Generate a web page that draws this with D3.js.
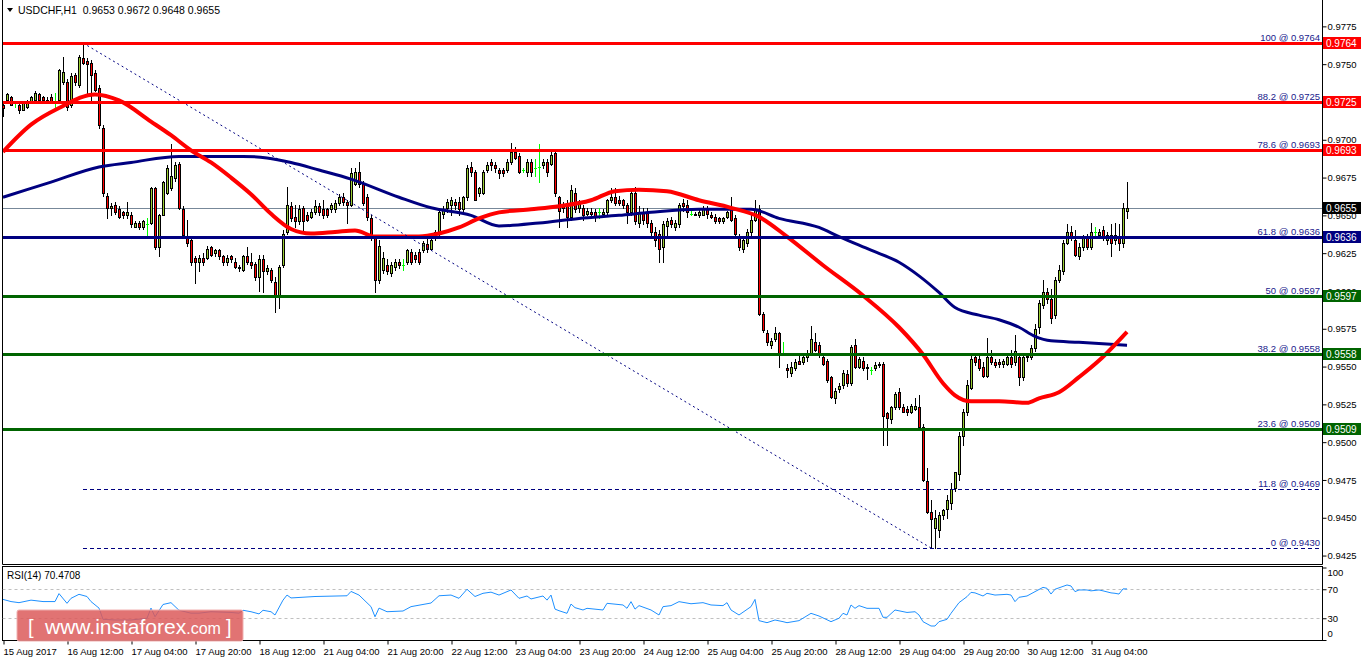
<!DOCTYPE html>
<html><head><meta charset="utf-8">
<script src="https://cdn.jsdelivr.net/npm/d3@7"></script>
<style>body{margin:0;background:#fff}svg{display:block}text{font-family:"Liberation Sans",Arial,sans-serif}</style>
</head><body><svg id="c" width="1362" height="661"></svg>
<script>
const opens=[
0.9723,0.9726,0.9728,0.9724,0.9723,0.9720,0.9722,0.9725,0.9726,0.9730,
0.9728,0.9726,0.9728,0.9724,0.9726,0.9738,0.9738,0.9723,0.9743,0.9736,
0.9754,0.9752,0.9751,0.9744,0.9734,0.9708,0.9663,0.9655,0.9657,0.9654,
0.9652,0.9650,0.9650,0.9642,0.9645,0.9642,0.9644,0.9645,0.9668,0.9629,
0.9650,0.9665,0.9668,0.9675,0.9684,0.9654,0.9636,0.9634,0.9622,0.9619,
0.9622,0.9622,0.9629,0.9625,0.9627,0.9623,0.9619,0.9623,0.9619,0.9616,
0.9614,0.9623,0.9619,0.9618,0.9609,0.9621,0.9613,0.9614,0.9606,0.9597,
0.9617,0.9639,0.9656,0.9649,0.9646,0.9655,0.9650,0.9649,0.9652,0.9656,
0.9654,0.9654,0.9654,0.9654,0.9658,0.9662,0.9659,0.9657,0.9671,0.9679,
0.9671,0.9662,0.9648,0.9635,0.9607,0.9614,0.9617,0.9612,0.9616,0.9619,
0.9617,0.9619,0.9626,0.9624,0.9626,0.9627,0.9631,0.9628,0.9636,0.9639,
0.9651,0.9655,0.9657,0.9659,0.9659,0.9654,0.9662,0.9682,0.9679,0.9665,
0.9665,0.9680,0.9685,0.9683,0.9680,0.9680,0.9680,0.9685,0.9692,0.9689,
0.9680,0.9679,0.9685,0.9681,0.9682,0.9683,0.9685,0.9684,0.9691,0.9662,
0.9657,0.9657,0.9649,0.9665,0.9655,0.9655,0.9651,0.9652,0.9652,0.9652,
0.9651,0.9652,0.9660,0.9662,0.9660,0.9660,0.9657,0.9652,0.9665,0.9645,
0.9652,0.9652,0.9645,0.9639,0.9638,0.9629,0.9643,0.9647,0.9642,0.9644,
0.9658,0.9657,0.9651,0.9651,0.9650,0.9650,0.9654,0.9650,0.9649,0.9648,
0.9646,0.9649,0.9654,0.9648,0.9635,0.9628,0.9632,0.9639,0.9647,0.9654,
0.9585,0.9572,0.9564,0.9568,0.9572,0.9559,0.9549,0.9546,0.9549,0.9554,
0.9553,0.9556,0.9559,0.9566,0.9564,0.9556,0.9554,0.9543,0.9529,0.9535,
0.9538,0.9545,0.9539,0.9564,0.9550,0.9554,0.9550,0.9548,0.9549,0.9552,
0.9552,0.9519,0.9515,0.9523,0.9533,0.9523,0.9522,0.9520,0.9522,0.9523,
0.9510,0.9474,0.9454,0.9443,0.9442,0.9452,0.9456,0.9460,0.9470,0.9479,
0.9504,0.9520,0.9536,0.9556,0.9555,0.9550,0.9544,0.9556,0.9553,0.9553,
0.9552,0.9552,0.9556,0.9553,0.9556,0.9543,0.9556,0.9556,0.9562,0.9576,
0.9591,0.9599,0.9595,0.9584,0.9607,0.9613,0.9632,0.9639,0.9634,0.9623,
0.9629,0.9635,0.9629,0.9639,0.9637,0.9640,0.9634,0.9637,0.9634,0.9635,
0.9632,0.9653];
const highs=[
0.9724,0.9731,0.9729,0.9725,0.9724,0.9724,0.9726,0.9729,0.9732,0.9731,
0.9729,0.9728,0.9730,0.9731,0.9747,0.9755,0.9740,0.9744,0.9744,0.9756,
0.9764,0.9754,0.9753,0.9746,0.9736,0.9710,0.9665,0.9658,0.9659,0.9656,
0.9653,0.9659,0.9652,0.9646,0.9646,0.9647,0.9648,0.9669,0.9669,0.9651,
0.9673,0.9683,0.9697,0.9685,0.9685,0.9656,0.9647,0.9635,0.9623,0.9624,
0.9625,0.9630,0.9630,0.9628,0.9628,0.9624,0.9624,0.9624,0.9622,0.9617,
0.9624,0.9629,0.9625,0.9619,0.9624,0.9624,0.9617,0.9615,0.9609,0.9617,
0.9640,0.9669,0.9659,0.9657,0.9657,0.9656,0.9652,0.9654,0.9660,0.9658,
0.9660,0.9655,0.9658,0.9660,0.9664,0.9665,0.9660,0.9681,0.9681,0.9685,
0.9673,0.9664,0.9650,0.9636,0.9634,0.9626,0.9621,0.9619,0.9621,0.9621,
0.9621,0.9628,0.9628,0.9626,0.9628,0.9633,0.9635,0.9635,0.9640,0.9655,
0.9656,0.9661,0.9662,0.9661,0.9662,0.9663,0.9683,0.9685,0.9680,0.9669,
0.9680,0.9685,0.9687,0.9685,0.9681,0.9681,0.9687,0.9698,0.9695,0.9691,
0.9681,0.9687,0.9687,0.9687,0.9697,0.9687,0.9687,0.9692,0.9693,0.9663,
0.9659,0.9660,0.9670,0.9668,0.9660,0.9657,0.9655,0.9655,0.9654,0.9655,
0.9654,0.9661,0.9668,0.9668,0.9663,0.9661,0.9658,0.9667,0.9669,0.9656,
0.9655,0.9655,0.9647,0.9642,0.9640,0.9646,0.9648,0.9649,0.9647,0.9658,
0.9661,0.9660,0.9654,0.9652,0.9654,0.9656,0.9656,0.9652,0.9651,0.9649,
0.9649,0.9653,0.9662,0.9650,0.9638,0.9635,0.9641,0.9650,0.9660,0.9657,
0.9586,0.9574,0.9569,0.9576,0.9573,0.9566,0.9552,0.9553,0.9555,0.9557,
0.9557,0.9561,0.9577,0.9572,0.9566,0.9558,0.9555,0.9544,0.9536,0.9539,
0.9548,0.9548,0.9564,0.9568,0.9556,0.9556,0.9552,0.9550,0.9553,0.9553,
0.9553,0.9520,0.9524,0.9533,0.9536,0.9525,0.9524,0.9525,0.9529,0.9531,
0.9512,0.9483,0.9462,0.9455,0.9454,0.9456,0.9465,0.9473,0.9480,0.9507,
0.9522,0.9541,0.9559,0.9558,0.9557,0.9553,0.9569,0.9561,0.9555,0.9555,
0.9555,0.9559,0.9561,0.9571,0.9559,0.9557,0.9559,0.9564,0.9578,0.9594,
0.9607,0.9602,0.9601,0.9609,0.9617,0.9634,0.9644,0.9643,0.9640,0.9632,
0.9637,0.9638,0.9645,0.9642,0.9641,0.9643,0.9639,0.9644,0.9645,0.9644,
0.9658,0.9672];
const lows=[
0.9716,0.9725,0.9723,0.9722,0.9718,0.9720,0.9721,0.9724,0.9726,0.9725,
0.9724,0.9724,0.9724,0.9720,0.9725,0.9737,0.9720,0.9722,0.9736,0.9735,
0.9750,0.9730,0.9726,0.9732,0.9708,0.9663,0.9648,0.9650,0.9651,0.9648,
0.9648,0.9648,0.9642,0.9642,0.9641,0.9641,0.9637,0.9644,0.9628,0.9623,
0.9650,0.9664,0.9667,0.9673,0.9654,0.9635,0.9630,0.9617,0.9605,0.9613,
0.9617,0.9621,0.9623,0.9623,0.9621,0.9617,0.9617,0.9619,0.9615,0.9613,
0.9613,0.9618,0.9615,0.9607,0.9600,0.9599,0.9611,0.9606,0.9586,0.9589,
0.9616,0.9638,0.9646,0.9642,0.9644,0.9639,0.9646,0.9648,0.9651,0.9650,
0.9648,0.9649,0.9652,0.9652,0.9657,0.9657,0.9645,0.9656,0.9670,0.9669,
0.9657,0.9647,0.9634,0.9599,0.9605,0.9612,0.9611,0.9610,0.9614,0.9615,
0.9614,0.9618,0.9618,0.9619,0.9618,0.9626,0.9626,0.9627,0.9634,0.9636,
0.9648,0.9652,0.9650,0.9654,0.9650,0.9652,0.9660,0.9676,0.9660,0.9663,
0.9664,0.9679,0.9680,0.9679,0.9675,0.9676,0.9679,0.9684,0.9687,0.9678,
0.9679,0.9676,0.9676,0.9676,0.9672,0.9681,0.9676,0.9683,0.9663,0.9642,
0.9652,0.9642,0.9647,0.9652,0.9652,0.9647,0.9650,0.9650,0.9646,0.9648,
0.9650,0.9650,0.9659,0.9657,0.9657,0.9655,0.9645,0.9650,0.9644,0.9642,
0.9644,0.9642,0.9637,0.9630,0.9619,0.9619,0.9637,0.9642,0.9640,0.9642,
0.9653,0.9649,0.9650,0.9650,0.9649,0.9650,0.9648,0.9648,0.9645,0.9645,
0.9645,0.9648,0.9646,0.9637,0.9627,0.9626,0.9630,0.9637,0.9646,0.9584,
0.9573,0.9564,0.9562,0.9567,0.9550,0.9558,0.9543,0.9544,0.9548,0.9552,
0.9552,0.9554,0.9558,0.9560,0.9556,0.9551,0.9540,0.9529,0.9526,0.9533,
0.9536,0.9537,0.9538,0.9549,0.9549,0.9548,0.9542,0.9545,0.9548,0.9550,
0.9498,0.9498,0.9513,0.9522,0.9522,0.9520,0.9518,0.9519,0.9521,0.9510,
0.9474,0.9453,0.9430,0.9430,0.9437,0.9449,0.9450,0.9456,0.9468,0.9475,
0.9498,0.9518,0.9535,0.9551,0.9548,0.9543,0.9543,0.9552,0.9550,0.9550,
0.9550,0.9551,0.9550,0.9551,0.9538,0.9541,0.9554,0.9555,0.9560,0.9572,
0.9589,0.9592,0.9579,0.9582,0.9606,0.9611,0.9631,0.9634,0.9623,0.9621,
0.9627,0.9628,0.9628,0.9636,0.9636,0.9634,0.9631,0.9623,0.9631,0.9627,
0.9629,0.9648];
const closes=[
0.9721,0.9730,0.9723,0.9724,0.9720,0.9724,0.9724,0.9728,0.9731,0.9726,
0.9726,0.9725,0.9725,0.9724,0.9746,0.9745,0.9722,0.9742,0.9738,0.9755,
0.9751,0.9750,0.9743,0.9733,0.9710,0.9665,0.9655,0.9656,0.9652,0.9649,
0.9650,0.9652,0.9644,0.9645,0.9642,0.9646,0.9644,0.9668,0.9629,0.9650,
0.9672,0.9681,0.9676,0.9683,0.9655,0.9637,0.9632,0.9619,0.9619,0.9622,
0.9619,0.9628,0.9624,0.9627,0.9623,0.9619,0.9622,0.9621,0.9616,0.9615,
0.9623,0.9619,0.9617,0.9609,0.9621,0.9613,0.9615,0.9607,0.9597,0.9616,
0.9638,0.9657,0.9648,0.9646,0.9654,0.9646,0.9647,0.9652,0.9656,0.9652,
0.9650,0.9650,0.9657,0.9658,0.9662,0.9659,0.9657,0.9678,0.9679,0.9671,
0.9658,0.9649,0.9637,0.9607,0.9630,0.9622,0.9613,0.9617,0.9619,0.9617,
0.9617,0.9627,0.9619,0.9621,0.9619,0.9632,0.9628,0.9634,0.9639,0.9652,
0.9654,0.9659,0.9660,0.9657,0.9654,0.9662,0.9681,0.9679,0.9660,0.9668,
0.9679,0.9683,0.9683,0.9681,0.9678,0.9678,0.9685,0.9692,0.9688,0.9679,
0.9680,0.9685,0.9679,0.9681,0.9682,0.9685,0.9679,0.9690,0.9665,0.9653,
0.9655,0.9649,0.9667,0.9654,0.9659,0.9650,0.9653,0.9651,0.9649,0.9652,
0.9652,0.9660,0.9662,0.9658,0.9658,0.9657,0.9652,0.9665,0.9646,0.9652,
0.9647,0.9645,0.9639,0.9634,0.9628,0.9644,0.9646,0.9644,0.9645,0.9657,
0.9656,0.9652,0.9651,0.9650,0.9652,0.9654,0.9651,0.9649,0.9646,0.9646,
0.9648,0.9652,0.9647,0.9638,0.9629,0.9634,0.9639,0.9647,0.9654,0.9585,
0.9574,0.9566,0.9567,0.9572,0.9559,0.9559,0.9548,0.9550,0.9553,0.9552,
0.9556,0.9559,0.9568,0.9561,0.9558,0.9552,0.9541,0.9530,0.9534,0.9537,
0.9546,0.9539,0.9563,0.9550,0.9555,0.9549,0.9549,0.9548,0.9551,0.9551,
0.9517,0.9516,0.9523,0.9532,0.9523,0.9520,0.9520,0.9524,0.9524,0.9510,
0.9475,0.9454,0.9449,0.9450,0.9452,0.9455,0.9462,0.9469,0.9480,0.9504,
0.9520,0.9538,0.9555,0.9553,0.9549,0.9544,0.9556,0.9553,0.9551,0.9552,
0.9554,0.9556,0.9552,0.9560,0.9543,0.9556,0.9557,0.9562,0.9575,0.9592,
0.9599,0.9595,0.9582,0.9607,0.9614,0.9632,0.9639,0.9635,0.9624,0.9629,
0.9636,0.9629,0.9639,0.9639,0.9639,0.9635,0.9637,0.9632,0.9637,0.9632,
0.9655,0.9655];

// moving averages (bar index, value)
const redMaBars=[0,7,14,23,29,37,42,47,52,57,62,67,72,77,83,88,93,104,109,114,119,124,132,139,147,153,159,166,174,182,189,196,205,215,224,230,235,238,242,249,256,259,264,269,274,281];
const redMaValues=[0.9692,0.9710,0.9721,0.9730,0.9726,0.9712,0.9703,0.9693,0.9685,0.9675,0.9664,0.9651,0.9641,0.9638,0.9639,0.9640,0.9636,0.9636,0.9638,0.9642,0.9648,0.9652,0.9654,0.9656,0.9660,0.9666,0.9667,0.9666,0.9660,0.9655,0.9649,0.9636,0.9617,0.9597,0.9576,0.9558,0.9539,0.9531,0.9527,0.9527,0.9526,0.9529,0.9533,0.9543,0.9554,0.9573];
const navyMaBars=[0,12,24,32,44,60,66,72,79,87,99,107,117,124,134,144,154,162,174,187,194,204,209,217,224,229,234,238,244,249,254,258,262,269,281];
const navyMaValues=[0.9662,0.9672,0.9682,0.9685,0.9689,0.9689,0.9688,0.9685,0.9680,0.9674,0.9662,0.9655,0.9650,0.9643,0.9645,0.9648,0.9650,0.9652,0.9654,0.9654,0.9648,0.9642,0.9636,0.9627,0.9619,0.9610,0.9599,0.9589,0.9584,0.9581,0.9576,0.9570,0.9567,0.9566,0.9564];

// RSI(14)
const rsiBars=[0,2,4,7,10,13,14,16,17,19,21,22,24,25,28,32,36,37,38,40,42,44,47,49,52,57,59,60,62,64,65,67,68,70,71,72,78,86,87,89,92,93,94,96,100,102,107,109,112,114,116,118,120,122,124,127,129,131,132,135,136,137,138,139,141,142,143,145,146,150,151,155,156,157,158,159,162,164,165,167,169,172,175,177,180,181,182,184,187,188,189,191,193,195,196,199,202,204,207,209,210,211,212,213,214,216,219,220,221,223,226,228,229,230,232,233,234,236,237,239,241,242,243,245,246,248,251,252,253,254,256,258,260,261,262,263,266,267,268,269,271,272,274,275,277,278,279,280,281];
const rsiValues=[56,53,51.5,55,53,53,64,50.6,57.5,63,60,53,44,28.5,27.6,27.6,30,44,32,49,51.5,41,37,37,39,38,37,41,39,36,41,39,34.5,55,62,58,60,61,67,62,46,32,44,39,40,46,51,61,62,57.5,70,60,64.4,66,62,69,57.5,60.7,56.6,60.7,55,62,42.6,40.4,36.8,49.6,44.6,41.4,43.7,41.4,50.6,48.3,43.7,52.9,42.6,47.4,41.4,34.5,46,47.4,52.9,50,51.5,48.3,47.4,51.5,41.4,34.5,46,56,26.7,23.9,27.6,25.3,23.9,26.7,36.8,33.1,25.3,30,36.8,34.5,48.3,43.7,47.4,43.7,43.7,31.3,31.3,41.4,38,39,34.5,25.3,19.3,19.3,25.3,28.5,36.8,51.5,59.8,65.7,65,60.7,64.4,62,63,62,52.9,58.9,60.7,66.7,72.6,71.3,63.4,70,75.9,74.5,66.7,69,69,67.8,69,67.8,65,64.4,63.4,70.5,70.47];
const rsiLevels=[70,30];
const rsiTicks=[100,70,30,0];

// horizontal levels and Fibonacci retracement
const levelPrices=[0.9764,0.9725,0.9693,0.9636,0.9597,0.9558,0.9509];
const fibPercents=["100","88.2","78.6","61.8","50","38.2","23.6","11.8","0"];
const fibPrices=[0.9764,0.9725,0.9693,0.9636,0.9597,0.9558,0.9509,0.9469,0.9430];
const fibStartBar=20, fibEndBar=232;
const lastPrice=0.9655;

const priceTicks=[0.9425,0.9450,0.9475,0.9500,0.9525,0.9550,0.9575,0.9600,0.9625,0.9650,0.9675,0.9700,0.9725,0.9750,0.9775];
const timeTickBars=[0,16,32,48,64,80,96,112,128,144,160,176,192,208,224,240,256,272];
const timeTickLabels=["15 Aug 2017","16 Aug 12:00","17 Aug 04:00","17 Aug 20:00","18 Aug 12:00","21 Aug 04:00","21 Aug 20:00","22 Aug 12:00","23 Aug 04:00","23 Aug 20:00","24 Aug 12:00","25 Aug 04:00","25 Aug 20:00","28 Aug 12:00","29 Aug 04:00","29 Aug 20:00","30 Aug 12:00","31 Aug 04:00"];

// ---------- drawing ----------
const svg=d3.select('#c');
const W=1362,H=661;
const L=2.5,R=1322.5,mainBottom=564.5,rsiTop=566.5,rsiBottom=640.5;
const levelColor=p=>p>=0.9693?'#ff0000':(p===0.9636?'#000080':'#006400');
const FONT='"Liberation Sans",Arial,sans-serif';

svg.append('rect').attr('width',W).attr('height',H).attr('fill','#fff');

const x=d3.scaleLinear().domain([0,281]).range([3,1127]);
const y=d3.scaleLinear().domain([0.9430,0.9764]).range([548,43]);
const yr=d3.scaleLinear().domain([0,100]).range([640,567.5]);

svg.append('defs').append('clipPath').attr('id','mainClip').append('rect')
  .attr('x',L).attr('y',0).attr('width',R-L).attr('height',mainBottom);
svg.select('defs').append('clipPath').attr('id','rsiClip').append('rect')
  .attr('x',L).attr('y',rsiTop).attr('width',R-L).attr('height',rsiBottom-rsiTop);

const main=svg.append('g').attr('clip-path','url(#mainClip)');

// current price line (background)
main.append('line').attr('x1',L).attr('x2',R)
  .attr('y1',Math.round(y(lastPrice))+0.5).attr('y2',Math.round(y(lastPrice))+0.5)
  .attr('stroke','#778899').attr('stroke-width',1);

// candles
const bars=d3.range(opens.length);
const cg=main.append('g');
bars.forEach(i=>{
  const cx=Math.round(x(i));
  const o=opens[i],c=closes[i],h=highs[i],l=lows[i];
  const doji=o===c;
  cg.append('line').attr('x1',cx+0.5).attr('x2',cx+0.5)
    .attr('y1',Math.round(y(h))).attr('y2',Math.round(y(l))+1)
    .attr('stroke',doji?'#00ff00':'#000').attr('stroke-width',1);
  if(doji){
    const yy=Math.round(y(o))+0.5;
    cg.append('line').attr('x1',cx-1).attr('x2',cx+2).attr('y1',yy).attr('y2',yy)
      .attr('stroke','#00ff00').attr('stroke-width',1);
  } else {
    const top=Math.round(y(Math.max(o,c))), bot=Math.round(y(Math.min(o,c)));
    cg.append('rect').attr('x',cx-0.5).attr('y',top+0.5).attr('width',2)
      .attr('height',Math.max(1,bot-top))
      .attr('fill',c>o?'#9acd32':'#ff0000').attr('stroke','#000').attr('stroke-width',1);
  }
});

// moving averages
const maLine=d3.line().x(d=>x(d[0])).y(d=>y(d[1])).curve(d3.curveMonotoneX);
main.append('path').datum(navyMaBars.map((b,k)=>[b,navyMaValues[k]]))
  .attr('d',maLine).attr('fill','none').attr('stroke','#000080').attr('stroke-width',3);
main.append('path').datum(redMaBars.map((b,k)=>[b,redMaValues[k]]))
  .attr('d',maLine).attr('fill','none').attr('stroke','#ff0000').attr('stroke-width',4);

// fibonacci diagonal + dashed levels
main.append('line').attr('x1',x(fibStartBar)).attr('y1',y(fibPrices[0]))
  .attr('x2',x(fibEndBar)).attr('y2',y(fibPrices[fibPrices.length-1]))
  .attr('stroke','#000080').attr('stroke-width',1).attr('stroke-dasharray','2,3');
fibPrices.forEach((p,k)=>{
  if(levelPrices.indexOf(p)<0){
    const yy=Math.round(y(p))+0.5;
    main.append('line').attr('x1',x(fibStartBar)).attr('x2',R).attr('y1',yy).attr('y2',yy)
      .attr('stroke','#000080').attr('stroke-width',1).attr('stroke-dasharray','4,3');
  }
});

// thick horizontal levels
levelPrices.forEach(p=>{
  const yy=Math.round(y(p))+0.5;
  main.append('line').attr('x1',L).attr('x2',R).attr('y1',yy).attr('y2',yy)
    .attr('stroke',levelColor(p)).attr('stroke-width',3);
});

// fib labels
fibPrices.forEach((p,k)=>{
  svg.append('text').attr('x',1320).attr('y',Math.round(y(p))-2.5)
    .attr('text-anchor','end').attr('font-size',9.5).attr('fill','#1a1a8c')
    .text(fibPercents[k]+' @ '+p.toFixed(4));
});

// frames
const frame=svg.append('g').attr('stroke','#000').attr('stroke-width',1).attr('fill','none');
frame.append('line').attr('x1',L).attr('x2',L).attr('y1',0).attr('y2',mainBottom);
frame.append('line').attr('x1',R).attr('x2',R).attr('y1',0).attr('y2',mainBottom);
frame.append('line').attr('x1',L).attr('x2',R).attr('y1',mainBottom).attr('y2',mainBottom);
frame.append('rect').attr('x',L).attr('y',rsiTop).attr('width',R-L).attr('height',rsiBottom-rsiTop);

// price axis
const pAxis=svg.append('g').attr('transform',`translate(${R},0)`)
  .call(d3.axisRight(y).tickValues(priceTicks).tickSize(4).tickSizeOuter(0).tickFormat(d3.format('.4f')));
pAxis.select('.domain').remove();
pAxis.selectAll('text').attr('font-family',FONT).attr('font-size',9.5).attr('fill','#000').attr('x',5);
pAxis.selectAll('line').attr('stroke','#000');

// price tags
function tag(p,color){
  const yy=Math.round(y(p));
  svg.append('rect').attr('x',1323).attr('y',yy-6).attr('width',38).attr('height',12).attr('fill',color);
  svg.append('text').attr('x',1326).attr('y',yy+4).attr('font-size',10).attr('fill','#fff').text(p.toFixed(4));
}
levelPrices.forEach(p=>tag(p,levelColor(p)));
tag(lastPrice,'#000');

// title
svg.append('path').attr('d','M7,8 L13,8 L10,12 Z').attr('fill','#000');
svg.append('text').attr('x',18).attr('y',14).attr('font-size',10.5).attr('fill','#000')
  .style('white-space','pre').text('USDCHF,H1  0.9653 0.9672 0.9648 0.9655');

// RSI panel
const rsiG=svg.append('g').attr('clip-path','url(#rsiClip)');
rsiLevels.forEach(v=>{
  rsiG.append('line').attr('x1',L).attr('x2',R).attr('y1',Math.round(yr(v))+0.5).attr('y2',Math.round(yr(v))+0.5)
    .attr('stroke','#c0c0c0').attr('stroke-dasharray','3,3');
});
rsiG.append('path').datum(rsiBars.map((b,k)=>[b,rsiValues[k]]))
  .attr('d',d3.line().x(d=>x(d[0])).y(d=>yr(d[1])))
  .attr('fill','none').attr('stroke','#1e90ff').attr('stroke-width',1);
svg.append('text').attr('x',7).attr('y',579).attr('font-size',10).attr('fill','#000').text('RSI(14) 70.4708');

const rAxis=svg.append('g').attr('transform',`translate(${R},0)`)
  .call(d3.axisRight(yr).tickValues(rsiTicks).tickSize(4).tickSizeOuter(0));
rAxis.select('.domain').remove();
rAxis.selectAll('text').attr('font-family',FONT).attr('font-size',9.5).attr('fill','#000').attr('x',5)
  .attr('dy',d=>d===100?'0.85em':(d===0?'-0.4em':'0.32em'));
rAxis.selectAll('line').attr('stroke','#000');

// time axis
const tAxis=svg.append('g').attr('transform',`translate(0,${rsiBottom})`)
  .call(d3.axisBottom(x).tickValues(timeTickBars).tickSize(4).tickSizeOuter(0)
    .tickFormat((d,k)=>timeTickLabels[k]));
tAxis.select('.domain').remove();
tAxis.selectAll('.tick line').attr('stroke','#000').attr('transform','translate(0.5,0)');
tAxis.selectAll('text').attr('font-family',FONT).attr('font-size',9.5).attr('fill','#000')
  .attr('text-anchor','start').attr('y',8).attr('dy','0.71em');

// watermark
const wm=svg.append('g');
wm.append('rect').attr('x',17).attr('y',610).attr('width',226).attr('height',31).attr('rx',2)
  .attr('fill','#dc5a5a').attr('fill-opacity',0.85).attr('stroke','#f0b0b0').attr('stroke-width',1);
const wt=wm.append('text').attr('y',634).attr('fill','#fff');
wt.append('tspan').attr('x',28).attr('font-size',20).text('[');
wt.append('tspan').attr('x',45).attr('font-size',21).text('www.instaforex');
wt.append('tspan').attr('font-size',16).text('.com');
wt.append('tspan').attr('x',226).attr('font-size',20).text(']');
</script>
</body></html>
